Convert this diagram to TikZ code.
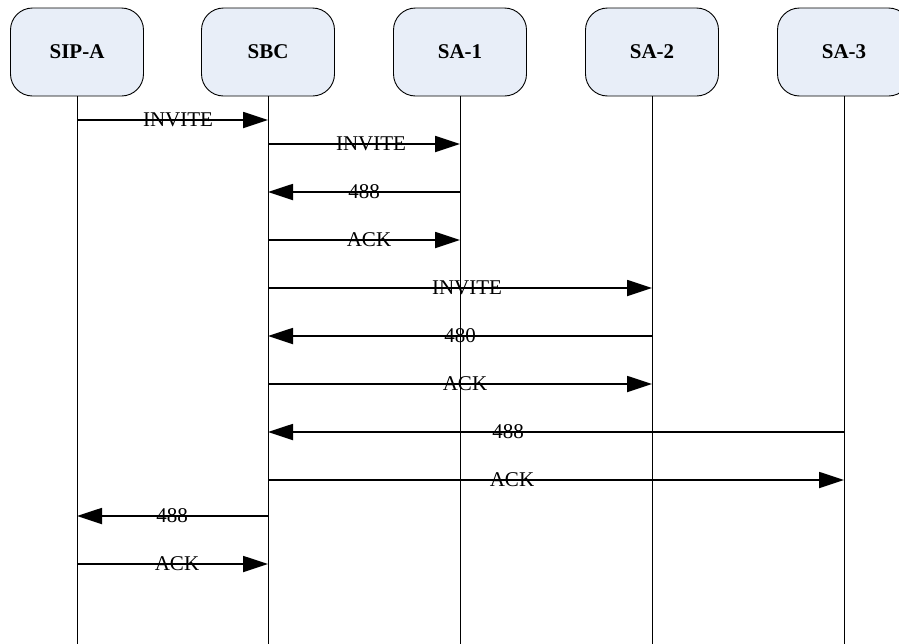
\documentclass[tikz,border=0pt]{standalone}
\usepackage{fontspec}
\setmainfont{Liberation Serif}
\usetikzlibrary{arrows.meta}
\definecolor{boxfill}{RGB}{232,238,248}
\begin{document}
\begin{tikzpicture}[x=1pt,y=-1pt,
  actor/.style={draw=black,line width=0.9pt,fill=boxfill,rounded corners=22pt,
    minimum width=133pt,minimum height=88pt,inner sep=0pt,
    font=\fontsize{21}{21}\selectfont\bfseries},
  life/.style={draw=black,line width=1pt},
  msg/.style={draw=black,line width=1.8pt,-{Triangle[length=25pt,width=16pt]}},
  lbl/.style={inner sep=0pt,anchor=center,font=\fontsize{21}{21}\selectfont}]
\useasboundingbox (0,0) rectangle (899,643);
\clip (0,0) rectangle (899,643);
% actors
\node[actor] (sipa) at (77,52) {SIP-A};
\node[actor] (sbc) at (268,52) {SBC};
\node[actor] (sa1) at (460,52) {SA-1};
\node[actor] (sa2) at (652,52) {SA-2};
\node[actor] (sa3) at (844,52) {SA-3};
% lifeline ends
\coordinate (bot) at (0,645);
\foreach \n in {sipa,sbc,sa1,sa2,sa3}{
  \draw[life] (\n.south) -- (\n.south |- bot);
}
% message rows
\coordinate (r1) at (0,120);
\coordinate (r2) at (0,144);
\coordinate (r3) at (0,192);
\coordinate (r4) at (0,240);
\coordinate (r5) at (0,288);
\coordinate (r6) at (0,336);
\coordinate (r7) at (0,384);
\coordinate (r8) at (0,432);
\coordinate (r9) at (0,480);
\coordinate (r10) at (0,516);
\coordinate (r11) at (0,564);
\draw[msg] (sipa |- r1) -- (sbc |- r1);
\draw[msg] (sbc |- r2) -- (sa1 |- r2);
\draw[msg] (sa1 |- r3) -- (sbc |- r3);
\draw[msg] (sbc |- r4) -- (sa1 |- r4);
\draw[msg] (sbc |- r5) -- (sa2 |- r5);
\draw[msg] (sa2 |- r6) -- (sbc |- r6);
\draw[msg] (sbc |- r7) -- (sa2 |- r7);
\draw[msg] (sa3 |- r8) -- (sbc |- r8);
\draw[msg] (sbc |- r9) -- (sa3 |- r9);
\draw[msg] (sbc |- r10) -- (sipa |- r10);
\draw[msg] (sipa |- r11) -- (sbc |- r11);
% labels
\node[lbl] (l1) at (178,120) {INVITE};
\node[lbl] (l2) at (371,144) {INVITE};
\node[lbl] (l3) at (364,192) {488};
\node[lbl] (l4) at (369,240) {ACK};
\node[lbl] (l5) at (467,288) {INVITE};
\node[lbl] (l6) at (460,336) {480};
\node[lbl] (l7) at (465,384) {ACK};
\node[lbl] (l8) at (508,432) {488};
\node[lbl] (l9) at (512,480) {ACK};
\node[lbl] (l10) at (172,516) {488};
\node[lbl] (l11) at (177,564) {ACK};
\end{tikzpicture}
\end{document}
